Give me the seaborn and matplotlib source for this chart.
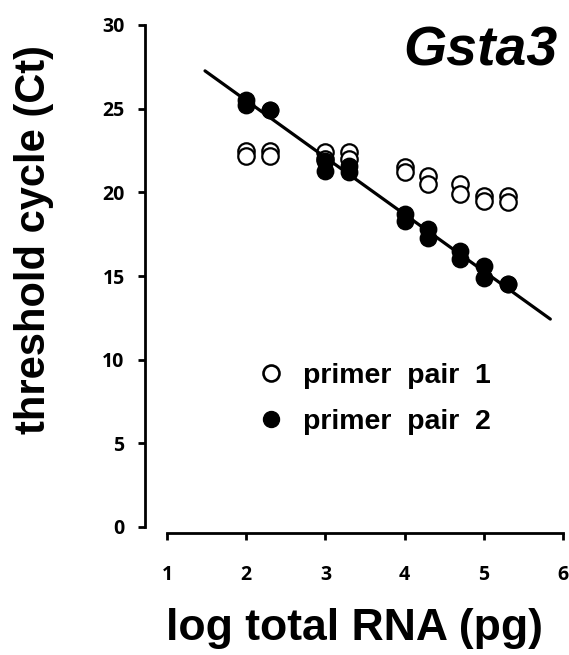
import numpy as np
import pandas as pd
import matplotlib
matplotlib.use("Agg")
import matplotlib.pyplot as plt
import seaborn as sns
from matplotlib.lines import Line2D

sns.set_theme(style="white")
plt.rcParams['font.family'] = ['Liberation Sans', 'DejaVu Sans']
plt.rcParams.update({"text.color": "black", "axes.labelcolor": "black",
                     "xtick.color": "black", "ytick.color": "black"})

# ---- data ----
log_rna = [2, 2, 2.301, 2.301, 3, 3, 3.301, 3.301, 4, 4, 4.301, 4.301,
           4.699, 4.699, 5, 5, 5.301, 5.301]
ct_pair1 = [22.5, 22.2, 22.5, 22.2, 22.4, 22.0, 22.4, 22.0, 21.5, 21.2, 21.0, 20.5,
            20.5, 19.9, 19.8, 19.5, 19.8, 19.4]
ct_pair2 = [25.5, 25.2, 24.9, 24.9, 21.9, 21.3, 21.6, 21.2, 18.7, 18.3, 17.8, 17.3,
            16.5, 16.0, 15.6, 14.9, 14.5, 14.5]
series_names = ["primer  pair  1", "primer  pair  2"]
x_ticks = [1, 2, 3, 4, 5, 6]
y_ticks = [0, 5, 10, 15, 20, 25, 30]
gene = "Gsta3"
fit_range = [1.48, 5.84]

df1 = pd.DataFrame({"x": log_rna, "y": ct_pair1})
df2 = pd.DataFrame({"x": log_rna, "y": ct_pair2})

W, H = 569, 655
fig = plt.figure(figsize=(W / 100, H / 100), dpi=100)
ax = fig.add_axes([167 / W, 128 / H, 396 / W, 502 / H])

ms = 140
sns.scatterplot(data=df1, x="x", y="y", ax=ax, s=ms, facecolor="white",
                edgecolor="black", linewidth=1.6, zorder=3, clip_on=False)
sns.scatterplot(data=df2, x="x", y="y", ax=ax, s=ms, color="black",
                edgecolor="black", linewidth=1.0, zorder=4, clip_on=False)

slope, intercept = np.polyfit(log_rna, ct_pair2, 1)
fx = np.array(fit_range)
fit_df = pd.DataFrame({"x": fx, "y": intercept + slope * fx})
sns.lineplot(data=fit_df, x="x", y="y", ax=ax, color="black", linewidth=2.3,
             zorder=5)

ax.set_xlim(1, 6)
ax.set_ylim(0, 30)
ax.set_xticks(x_ticks)
ax.set_yticks(y_ticks)
ax.set_xticklabels([str(t) for t in x_ticks])
ax.set_yticklabels([str(t) for t in y_ticks])

for side in ["top", "right"]:
    ax.spines[side].set_visible(False)
for side in ["left", "bottom"]:
    ax.spines[side].set_color("black")
    ax.spines[side].set_linewidth(2.0)
ax.spines["left"].set_position(("outward", 15.5))
ax.spines["bottom"].set_position(("outward", 4.3))
ax.spines["left"].set_bounds(0, 30)
ax.spines["bottom"].set_bounds(1, 6)
ax.tick_params(axis="both", direction="out", length=5, width=2, color="black",
               left=True, bottom=True, labelcolor="black", labelsize=14)
ax.tick_params(axis="y", pad=10)
ax.tick_params(axis="x", pad=18)
for lab in ax.get_xticklabels() + ax.get_yticklabels():
    lab.set_fontweight("bold")
    lab.set_family(["Open Sans", "DejaVu Sans"])

ax.set_xlabel("log total RNA (pg)", fontsize=32, fontweight="bold", color="black")
ax.set_ylabel("threshold cycle (Ct)", fontsize=30, fontweight="bold", color="black")
ax.xaxis.label.set_va("top")
ax.xaxis.set_label_coords((355 - 167) / 396, -(608 - 527) / 502)
ax.yaxis.label.set_va("center")
ax.yaxis.set_label_coords(-(167 - 34) / 396, (527 - 240) / 502)

ax.text(0.985, 1.0, gene, transform=ax.transAxes, ha="right", va="top",
        fontsize=40, fontweight="bold", style="italic", color="black")

handles = [
    Line2D([], [], marker="o", linestyle="", markersize=11.5,
           markerfacecolor="white", markeredgecolor="black", markeredgewidth=1.9),
    Line2D([], [], marker="o", linestyle="", markersize=11.5,
           markerfacecolor="black", markeredgecolor="black"),
]
leg = ax.legend(handles, series_names, loc="upper left",
                bbox_to_anchor=((257 - 167) / 396, (527 - 363) / 502),
                frameon=False, prop={"weight": "bold", "size": 20.5},
                handletextpad=0.6, labelspacing=0.7, handlelength=1.0,
                borderaxespad=0, borderpad=0)
for t in leg.get_texts():
    t.set_color("black")

fig.savefig("out.png", dpi=100)
